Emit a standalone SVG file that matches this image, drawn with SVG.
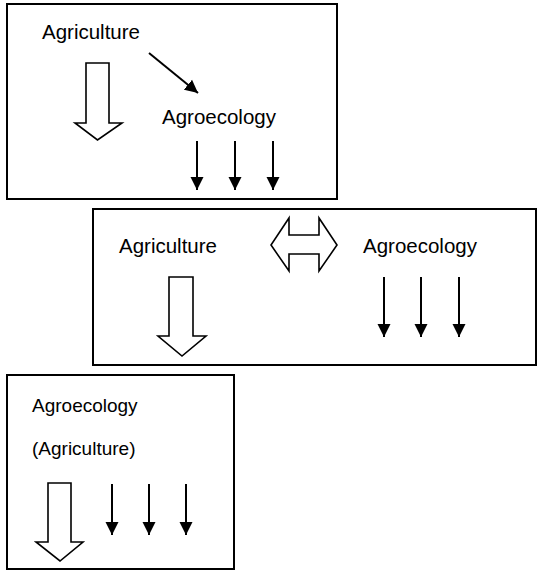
<svg xmlns="http://www.w3.org/2000/svg" width="537" height="571" viewBox="0 0 537 571">
<style>
.box{fill:none;stroke:#000;stroke-width:2}
.t{font-family:"Liberation Sans",Arial,sans-serif;fill:#000}
.big{font-size:20.5px}
.sm{font-size:19px}
.hollow{fill:#fff;stroke:#000;stroke-width:1.6;stroke-linejoin:miter}
.ar{stroke:#000;stroke-width:2;fill:none;marker-end:url(#head)}
</style>
<defs>
<marker id="head" markerUnits="userSpaceOnUse" markerWidth="14" markerHeight="14" refX="13" refY="7" orient="auto" viewBox="0 0 14 14">
<path d="M0,0.5 L13,7 L0,13.5 Z" fill="#000"/>
</marker>
</defs>
<rect width="537" height="571" fill="#fff"/>
<g id="panel1">
<rect class="box" x="7" y="4" width="330" height="195"/>
<text class="t big" x="42" y="39">Agriculture</text>
<text class="t big" x="162" y="124">Agroecology</text>
<polygon class="hollow" points="86,63 109,63 109,123 122,123 97.5,140 75,123 86,123"/>
</g>
<g id="panel2">
<rect class="box" x="93" y="209" width="443" height="156"/>
<text class="t big" x="119" y="253">Agriculture</text>
<text class="t big" x="363" y="253">Agroecology</text>
<polygon class="hollow" points="289,218 289,235 319,235 319,218 337,245 319,271 319,254 289,254 289,271 271,245"/>
<polygon class="hollow" points="169,277 193,277 193,336 206,336 182,356 158,336 169,336"/>
</g>
<g id="panel3">
<rect class="box" x="7" y="375" width="227" height="194"/>
<text class="t sm" x="32" y="412">Agroecology</text>
<text class="t sm" x="32" y="455">(Agriculture)</text>
<polygon class="hollow" points="48,483 71,483 71,542 83,542 60,561 36,542 48,542"/>
</g>
<g id="connectors">
<line class="ar" x1="149" y1="53" x2="198" y2="93"/>
<line class="ar" x1="197" y1="141" x2="197" y2="190"/>
<line class="ar" x1="235" y1="141" x2="235" y2="190"/>
<line class="ar" x1="273" y1="141" x2="273" y2="190"/>
<line class="ar" x1="384" y1="277" x2="384" y2="337"/>
<line class="ar" x1="421" y1="277" x2="421" y2="337"/>
<line class="ar" x1="459" y1="277" x2="459" y2="337"/>
<line class="ar" x1="112" y1="484" x2="112" y2="535"/>
<line class="ar" x1="149" y1="484" x2="149" y2="535"/>
<line class="ar" x1="186" y1="484" x2="186" y2="535"/>
</g>
</svg>
